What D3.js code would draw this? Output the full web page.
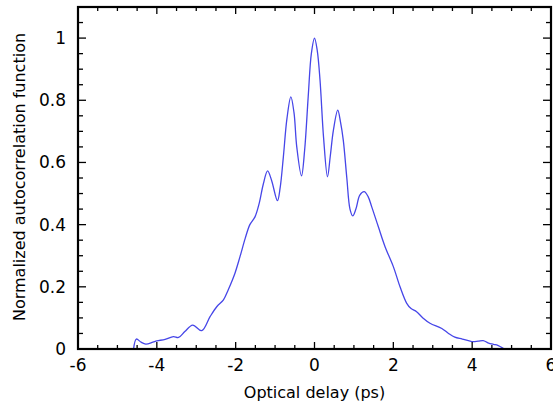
<!DOCTYPE html>
<html>
<head>
<meta charset="utf-8">
<script src="https://cdn.jsdelivr.net/npm/d3@7"></script>
<style>
  body { margin: 0; background: #fff; }
  svg { display: block; font-family: "DejaVu Sans", sans-serif; }
</style>
</head>
<body>
<svg id="chart"></svg>
<script>
let width = 553, height = 406;

// optical delay (ps)
var delay = [-4.59, -4.52, -4.40, -4.28, -4.10, -4.00, -3.79, -3.58, -3.45, -3.29, -3.09, -2.86,
  -2.65, -2.48, -2.31, -2.19, -2.02, -1.89, -1.76, -1.64, -1.51, -1.40, -1.30, -1.19, -1.09,
  -0.94, -0.87, -0.79, -0.70, -0.60, -0.52, -0.45, -0.33, -0.25, -0.16, -0.08, 0.00, 0.07,
  0.14, 0.23, 0.33, 0.40, 0.48, 0.59, 0.66, 0.73, 0.82, 0.90, 0.97, 1.05, 1.15, 1.26, 1.36,
  1.45, 1.62, 1.79, 2.00, 2.17, 2.34, 2.45, 2.59, 2.75, 2.93, 3.23, 3.40, 3.56, 3.75, 3.99,
  4.15, 4.28, 4.40, 4.54, 4.65, 4.79];
// normalized autocorrelation
var acf = [0, 0.032, 0.022, 0.016, 0.022, 0.026, 0.031, 0.040, 0.037, 0.056, 0.077, 0.059,
  0.104, 0.136, 0.158, 0.19, 0.243, 0.297, 0.355, 0.400, 0.425, 0.47, 0.53, 0.573, 0.543,
  0.477, 0.52, 0.618, 0.74, 0.811, 0.76, 0.65, 0.557, 0.64, 0.811, 0.95, 1.0, 0.96,
  0.865, 0.68, 0.554, 0.62, 0.704, 0.768, 0.73, 0.672, 0.55, 0.45, 0.428, 0.45, 0.495, 0.506, 0.49,
  0.458, 0.393, 0.329, 0.265, 0.20, 0.147, 0.13, 0.12, 0.10, 0.083, 0.066, 0.05, 0.038, 0.032, 0.024,
  0.025, 0.027, 0.02, 0.015, 0.012, 0.002];

var xTicks = [-6, -4, -2, 0, 2, 4, 6];
var yTicks = [0, 0.2, 0.4, 0.6, 0.8, 1];

var margin = {top: 7, right: 2, bottom: 57, left: 78};

var svg = d3.select("#chart").attr("width", width).attr("height", height);

var x = d3.scaleLinear().domain([-6, 6]).range([margin.left, width - margin.right]);
var y = d3.scaleLinear().domain([0, 1.1]).range([height - margin.bottom, margin.top]);

var x0 = x.range()[0], x1 = x.range()[1], y0 = y.range()[0], y1 = y.range()[1];

var xMinor = d3.range(-6, 6.001, 0.5).filter(v => Math.abs(v % 2) > 1e-6);
var yMinor = d3.range(0, 1.1001, 0.05).filter(v => Math.abs(Math.round(v * 100) % 20) !== 0);

// data line
var points = delay.map((d, i) => [d, acf[i]]);
var line = d3.line()
  .x(d => x(d[0]))
  .y(d => y(d[1]))
  .curve(d3.curveCatmullRom.alpha(0.5));

svg.append("path")
  .datum(points)
  .attr("d", line)
  .attr("fill", "none")
  .attr("stroke", "#4646e8")
  .attr("stroke-width", 1.3);

// ticks (inward on all four sides)
var tk = svg.append("g").attr("stroke", "#000").attr("stroke-width", 1.3);
function tickX(vals, len) {
  vals.forEach(v => {
    tk.append("line").attr("x1", x(v)).attr("x2", x(v)).attr("y1", y0).attr("y2", y0 - len);
    tk.append("line").attr("x1", x(v)).attr("x2", x(v)).attr("y1", y1).attr("y2", y1 + len);
  });
}
function tickY(vals, len) {
  vals.forEach(v => {
    tk.append("line").attr("y1", y(v)).attr("y2", y(v)).attr("x1", x0).attr("x2", x0 + len);
    tk.append("line").attr("y1", y(v)).attr("y2", y(v)).attr("x1", x1).attr("x2", x1 - len);
  });
}
tickX(xTicks, 7);
tickX(xMinor, 4);
tickY(yTicks, 8);
tickY(yMinor, 5);

// frame
svg.append("rect")
  .attr("x", x0).attr("y", y1)
  .attr("width", x1 - x0).attr("height", y0 - y1)
  .attr("fill", "none").attr("stroke", "#000").attr("stroke-width", 2.2);

// tick labels
svg.append("g").selectAll("text")
  .data(xTicks)
  .join("text")
  .attr("x", d => x(d))
  .attr("y", y0 + 22)
  .attr("text-anchor", "middle")
  .attr("font-size", 17)
  .text(d => String(d));

svg.append("g").selectAll("text")
  .data(yTicks)
  .join("text")
  .attr("x", x0 - 12)
  .attr("y", d => y(d) + 6)
  .attr("text-anchor", "end")
  .attr("font-size", 17)
  .text(d => String(d));

// axis titles
svg.append("text")
  .attr("x", (x0 + x1) / 2)
  .attr("y", 398)
  .attr("text-anchor", "middle")
  .attr("font-size", 16)
  .text("Optical delay (ps)");

svg.append("text")
  .attr("transform", `translate(25,177) rotate(-90)`)
  .attr("text-anchor", "middle")
  .attr("font-size", 16)
  .text("Normalized autocorrelation function");
</script>
</body>
</html>
